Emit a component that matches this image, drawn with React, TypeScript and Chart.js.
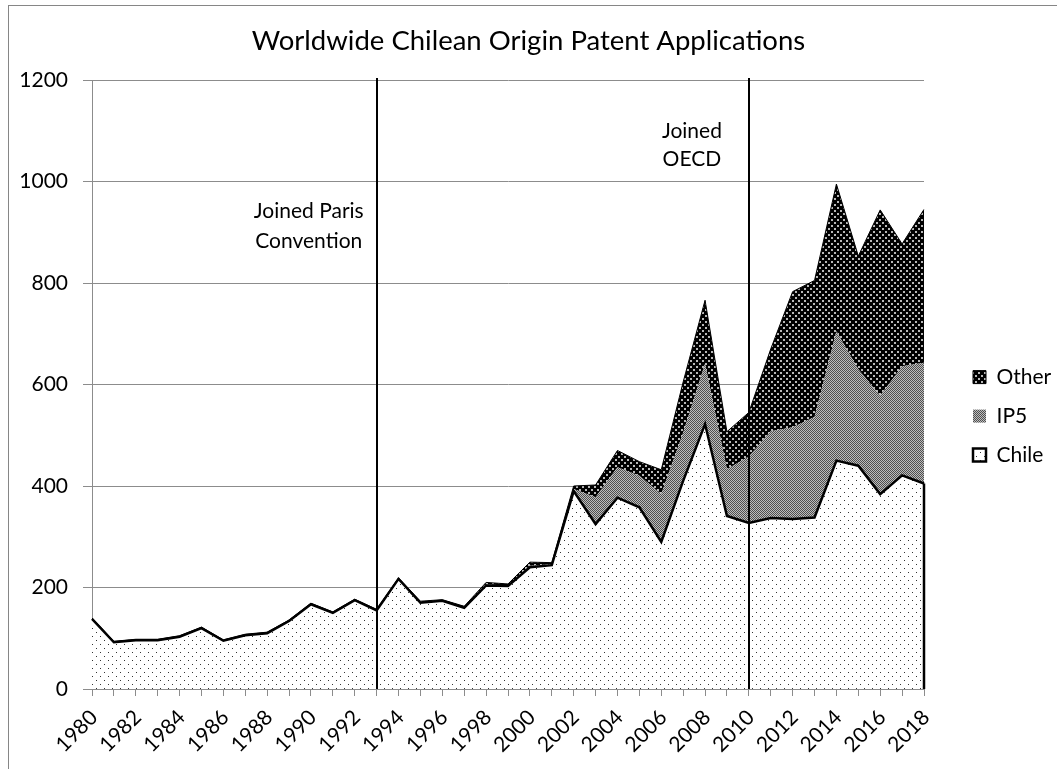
import React, { useEffect, useRef } from 'react';
import { Chart, registerables } from 'chart.js';

Chart.register(...registerables);

const FONT = 'Lato';

const years = [
  '1980', '1981', '1982', '1983', '1984', '1985', '1986', '1987', '1988', '1989',
  '1990', '1991', '1992', '1993', '1994', '1995', '1996', '1997', '1998', '1999',
  '2000', '2001', '2002', '2003', '2004', '2005', '2006', '2007', '2008', '2009',
  '2010', '2011', '2012', '2013', '2014', '2015', '2016', '2017', '2018',
];

const chile = [
  138, 92, 96, 96, 103, 120, 95, 106, 110, 134,
  167, 150, 175, 155, 217, 170, 174, 160, 204, 203,
  240, 244, 390, 325, 377, 358, 290, 410, 522, 341,
  327, 337, 335, 338, 450, 440, 384, 421, 405,
];

const ip5 = [
  0, 0, 0, 0, 0, 0, 0, 0, 0, 0,
  0, 0, 0, 0, 0, 1, 1, 1, 2, 1,
  3, 2, 4, 53, 60, 62, 94, 95, 119, 92,
  131, 171, 181, 198, 255, 190, 194, 215, 238,
];

const other = [
  2, 2, 2, 2, 2, 2, 2, 2, 2, 2,
  2, 2, 2, 2, 2, 2, 1, 2, 4, 3,
  7, 3, 6, 24, 33, 28, 48, 100, 125, 74,
  87, 162, 267, 269, 290, 223, 366, 241, 302,
];

const seriesNames = ['Chile', 'IP5', 'Other'];
const titleText = 'Worldwide Chilean Origin Patent Applications';
const yMax = 1200;
const yStep = 200;

const eventYears = ['1993', '2010'];
const eventLabelLines = [['Joined Paris', 'Convention'], ['Joined', 'OECD']];
// label anchors in data units (category index, value per line)
const eventLabelIndex = [9.9, 27.4];
const eventLabelValues = [[941, 882], [1100, 1043]];

function makePattern(w: number, h: number, bg: string, fg: string, dots: number[][], dot = 1) {
  const c = document.createElement('canvas');
  c.width = w;
  c.height = h;
  const g = c.getContext('2d')!;
  g.fillStyle = bg;
  g.fillRect(0, 0, w, h);
  g.fillStyle = fg;
  dots.forEach(([x, y]) => g.fillRect(x, y, dot, dot));
  return g.createPattern(c, 'repeat')!;
}

const overlayPlugin = {
  id: 'overlay',
  beforeDraw(chart: any) {
    const { ctx } = chart;
    ctx.save();
    ctx.fillStyle = '#fff';
    ctx.fillRect(0, 0, chart.width, chart.height);
    ctx.strokeStyle = '#868686';
    ctx.lineWidth = 1;
    ctx.strokeRect(8.5, 5.5, chart.width + 50, chart.height + 50);
    ctx.restore();
  },
  afterDatasetsDraw(chart: any) {
    const { ctx } = chart;
    const x = chart.scales.x;
    const y = chart.scales.y;
    ctx.save();
    ctx.strokeStyle = '#000';
    ctx.lineWidth = 2.5;
    const last = years.length - 1;
    const xr = x.getPixelForValue(last);
    ctx.beginPath();
    ctx.moveTo(xr, y.getPixelForValue(chile[last]));
    ctx.lineTo(xr, y.getPixelForValue(0));
    ctx.stroke();
    ctx.lineWidth = 2;
    eventYears.forEach((yr) => {
      const px = Math.round(x.getPixelForValue(years.indexOf(yr)));
      ctx.beginPath();
      ctx.moveTo(px, y.getPixelForValue(yMax) - 2);
      ctx.lineTo(px, y.getPixelForValue(0));
      ctx.stroke();
    });
    ctx.fillStyle = '#000';
    ctx.font = `21px ${FONT}`;
    ctx.textAlign = 'center';
    ctx.textBaseline = 'middle';
    eventLabelLines.forEach((lines, i) => {
      const px = x.getPixelForValue(eventLabelIndex[i]);
      lines.forEach((t, j) => {
        ctx.fillText(t, px, y.getPixelForValue(eventLabelValues[i][j]));
      });
    });
    ctx.restore();
  },
};

export default function App() {
  const ref = useRef<HTMLCanvasElement>(null);

  useEffect(() => {
    if (!ref.current) return;
    const chileFill = makePattern(8, 8, '#ffffff', '#333333', [[0, 0], [4, 4]]);
    const ip5Fill = makePattern(2, 2, '#bdbdbd', '#4f4f4f', [[0, 0], [1, 1]]);
    const otherFill = makePattern(6, 6, '#000000', '#b8b8b8', [[0, 0], [3, 3]], 2);

    const m = document.createElement('canvas').getContext('2d')!;
    m.font = `21px ${FONT}`;
    const maxText = Math.max(...seriesNames.map((s) => m.measureText(s).width));
    const legendW = 10 + 18 + 13 + 10.5 + maxText;
    const padRight = Math.max(0, 102 - legendW);

    const gridColor = '#8c8c8c';

    const chart = new Chart(ref.current, {
      type: 'line',
      data: {
        labels: years,
        datasets: [
          {
            label: seriesNames[0],
            data: chile,
            backgroundColor: chileFill,
            borderColor: '#000',
            borderWidth: 2.5,
            fill: 'origin',
            pointRadius: 0,
            tension: 0,
          },
          {
            label: seriesNames[1],
            data: ip5,
            backgroundColor: ip5Fill,
            borderColor: 'rgba(0,0,0,0)',
            borderWidth: 0,
            fill: '-1',
            pointRadius: 0,
            tension: 0,
          },
          {
            label: seriesNames[2],
            data: other,
            backgroundColor: otherFill,
            borderColor: '#000',
            borderWidth: 1,
            fill: '-1',
            pointRadius: 0,
            tension: 0,
          },
        ],
      },
      options: {
        animation: false,
        responsive: true,
        maintainAspectRatio: false,
        events: [],
        layout: { padding: { left: 0, right: padRight, top: 0, bottom: 0 } },
        scales: {
          x: {
            type: 'category',
            offset: false,
            grid: {
              display: true,
              drawOnChartArea: false,
              drawTicks: true,
              tickLength: 7,
              color: gridColor,
            },
            border: { display: true, color: gridColor, width: 1 },
            ticks: {
              autoSkip: false,
              minRotation: 45,
              maxRotation: 45,
              padding: 9,
              labelOffset: 2,
              color: '#000',
              font: { family: FONT, size: 21 },
              callback: (_v: any, i: number) => (Number(years[i]) % 2 === 0 ? years[i] : ''),
            },
            afterFit: (s: any) => {
              s.height = 80;
            },
          },
          y: {
            stacked: true,
            min: 0,
            max: yMax,
            grid: {
              color: gridColor,
              tickLength: 9,
              drawTicks: true,
            },
            border: { display: true, color: gridColor, width: 1 },
            ticks: {
              stepSize: yStep,
              padding: 15,
              color: '#000',
              font: { family: FONT, size: 21 },
              callback: (v: any) => String(v),
            },
            afterFit: (s: any) => {
              s.width = 92;
            },
          },
          pad: {
            type: 'linear',
            position: 'right',
            display: true,
            grid: { display: false },
            border: { display: false },
            ticks: { display: false },
            afterFit: (s: any) => {
              s.width = 31;
            },
          },
        },
        plugins: {
          title: {
            display: true,
            text: titleText,
            color: '#000',
            font: { family: FONT, size: 27.5, weight: 'normal', lineHeight: 1.2 },
            padding: { top: 25, bottom: 22 },
          },
          legend: {
            display: true,
            position: 'right',
            reverse: true,
            maxWidth: 102,
            title: {
              display: true,
              text: ' ',
              padding: 19,
              font: { family: FONT, size: 21 },
            },
            labels: {
              boxWidth: 13,
              boxHeight: 13,
              padding: 18,
              color: '#000',
              font: { family: FONT, size: 21 },
            },
          },
          tooltip: { enabled: false },
        },
      },
      plugins: [overlayPlugin],
    } as any);

    return () => chart.destroy();
  }, []);

  return (
    <div style={{ position: 'absolute', left: 0, top: 0, width: 1057, height: 769 }}>
      <canvas ref={ref} />
    </div>
  );
}
